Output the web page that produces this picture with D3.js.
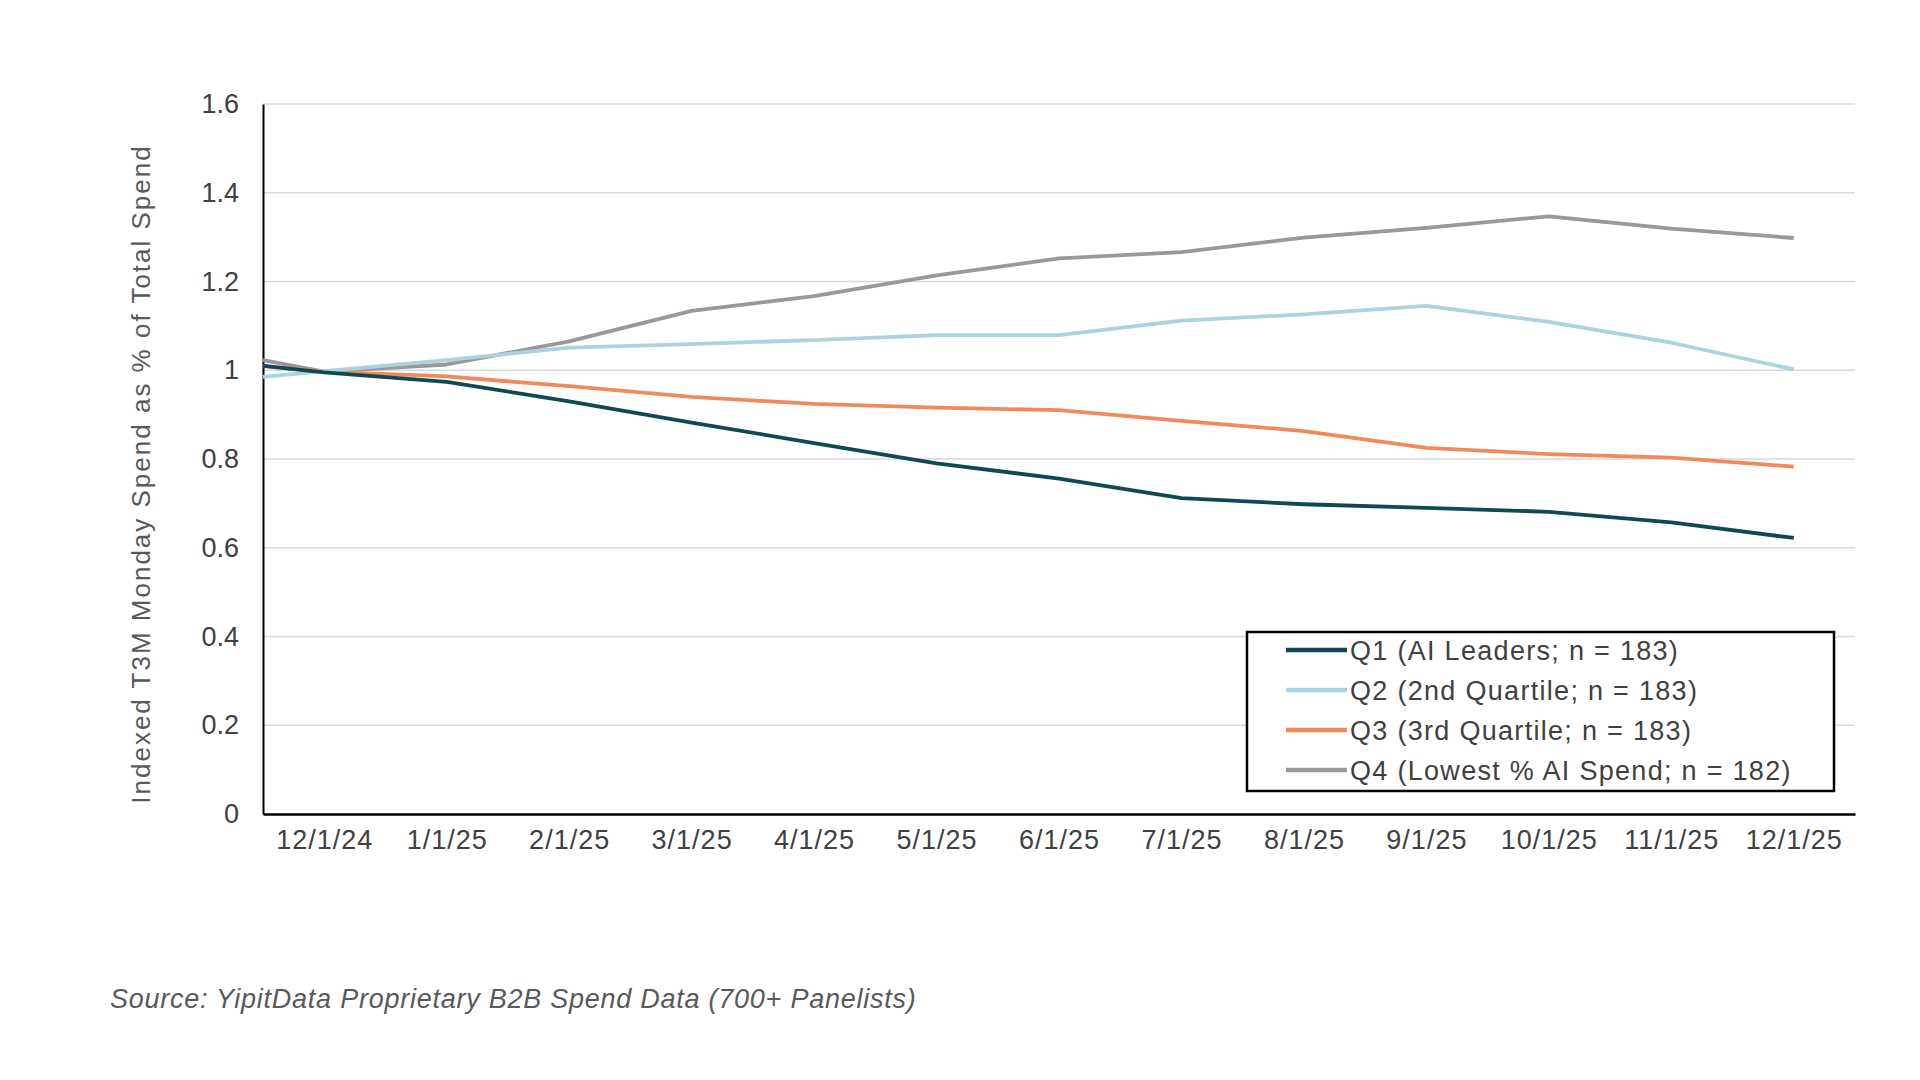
<!DOCTYPE html>
<html>
<head>
<meta charset="utf-8">
<script src="https://cdn.jsdelivr.net/npm/d3@7"></script>
<style>
  body { margin: 0; background: #fff; }
  text { font-family: "Liberation Sans", Arial, sans-serif; }
</style>
</head>
<body>
<script>
// month labels on the x axis
var months = ["12/1/24", "1/1/25", "2/1/25", "3/1/25", "4/1/25", "5/1/25", "6/1/25",
              "7/1/25", "8/1/25", "9/1/25", "10/1/25", "11/1/25", "12/1/25"];

// first value of each series is the point at the left edge of the plot
var q1 = [1.01, 0.995, 0.974, 0.930, 0.882, 0.836, 0.790, 0.756, 0.712, 0.698, 0.690, 0.681, 0.657, 0.622];
var q2 = [0.985, 0.998, 1.023, 1.051, 1.059, 1.068, 1.079, 1.079, 1.112, 1.126, 1.145, 1.109, 1.062, 1.002];
var q3 = [1.010, 0.997, 0.986, 0.964, 0.940, 0.924, 0.916, 0.910, 0.886, 0.863, 0.825, 0.811, 0.803, 0.783];
var q4 = [1.023, 0.997, 1.013, 1.065, 1.134, 1.167, 1.214, 1.252, 1.266, 1.299, 1.321, 1.347, 1.319, 1.298];

var seriesNames = ["Q1 (AI Leaders; n = 183)", "Q2 (2nd Quartile; n = 183)",
                   "Q3 (3rd Quartile; n = 183)", "Q4 (Lowest % AI Spend; n = 182)"];
var seriesColors = ["#0f4a54", "#a9d3de", "#f08a5d", "#999999"];

var yTicks = [0, 0.2, 0.4, 0.6, 0.8, 1, 1.2, 1.4, 1.6];

var margin = {top: 104, right: 65, bottom: 266, left: 263};
var width = 1920 - margin.left - margin.right;
var height = 1080 - margin.top - margin.bottom;

var svg = d3.select("body").append("svg")
    .attr("width", 1920)
    .attr("height", 1080);

var g = svg.append("g")
    .attr("transform", "translate(" + margin.left + "," + margin.top + ")");

var xScale = d3.scaleLinear().domain([0, months.length]).range([0, width]);
var yScale = d3.scaleLinear().domain([0, 1.6]).range([height, 0]);

// gridlines
g.append("g")
    .selectAll("line")
    .data(yTicks.slice(1))
    .enter()
    .append("line")
    .attr("x1", 0)
    .attr("x2", width)
    .attr("y1", function(d) { return yScale(d); })
    .attr("y2", function(d) { return yScale(d); })
    .attr("stroke", "#d9d9d9")
    .attr("stroke-width", 1.5);

var yAxis = d3.axisLeft(yScale)
    .tickValues(yTicks)
    .tickSize(0)
    .tickPadding(24)
    .tickFormat(function(d) { return String(d); });

var yg = g.append("g").attr("class", "y axis").call(yAxis);
yg.select(".domain").attr("stroke", "#000").attr("stroke-width", 2);
yg.selectAll("text").attr("font-size", 27).attr("fill", "#404040");

var xAxis = d3.axisBottom(xScale)
    .tickValues(d3.range(months.length).map(function(i) { return i + 0.5; }))
    .tickSize(0)
    .tickPadding(16)
    .tickFormat(function(d, i) { return months[i]; });

var xg = g.append("g")
    .attr("class", "x axis")
    .attr("transform", "translate(0," + height + ")")
    .call(xAxis);
xg.select(".domain").attr("stroke", "#000").attr("stroke-width", 2.5);
xg.selectAll("text").attr("font-size", 27).attr("letter-spacing", 1).attr("fill", "#404040");

// point k = 0 sits on the left edge, the rest on the month centres
function xOf(k) { return k === 0 ? xScale(0) : xScale(k - 0.5); }

var line = d3.line()
    .x(function(d, k) { return xOf(k); })
    .y(function(d) { return yScale(d); });

var allSeries = [q4, q3, q2, q1];
var allColors = [seriesColors[3], seriesColors[2], seriesColors[1], seriesColors[0]];

g.append("g")
    .selectAll("path")
    .data(allSeries)
    .enter()
    .append("path")
    .attr("d", function(d) { return line(d); })
    .attr("fill", "none")
    .attr("stroke", function(d, i) { return allColors[i]; })
    .attr("stroke-width", 3.8)
    .attr("stroke-linejoin", "round");

// legend
var legend = svg.append("g").attr("transform", "translate(1247,632)");
legend.append("rect")
    .attr("width", 587)
    .attr("height", 159)
    .attr("fill", "#fff")
    .attr("stroke", "#000")
    .attr("stroke-width", 2.5);

var rows = legend.selectAll("g.row")
    .data(seriesNames)
    .enter()
    .append("g")
    .attr("class", "row")
    .attr("transform", function(d, i) { return "translate(0," + (18 + i * 40) + ")"; });

rows.append("line")
    .attr("x1", 39)
    .attr("x2", 100)
    .attr("y1", 0)
    .attr("y2", 0)
    .attr("stroke", function(d, i) { return seriesColors[i]; })
    .attr("stroke-width", 4.5);

rows.append("text")
    .attr("x", 103)
    .attr("y", 10)
    .attr("font-size", 27)
    .attr("letter-spacing", 1.3)
    .attr("fill", "#404040")
    .text(function(d) { return d; });

// axis title
svg.append("text")
    .attr("transform", "translate(150,474) rotate(-90)")
    .attr("text-anchor", "middle")
    .attr("font-size", 26)
    .attr("letter-spacing", 2)
    .attr("fill", "#595959")
    .text("Indexed T3M Monday Spend as % of Total Spend");

// source note
svg.append("text")
    .attr("x", 110)
    .attr("y", 1008)
    .attr("font-size", 27)
    .attr("font-style", "italic")
    .attr("letter-spacing", 0.75)
    .attr("fill", "#595959")
    .text("Source: YipitData Proprietary B2B Spend Data (700+ Panelists)");
</script>
</body>
</html>
